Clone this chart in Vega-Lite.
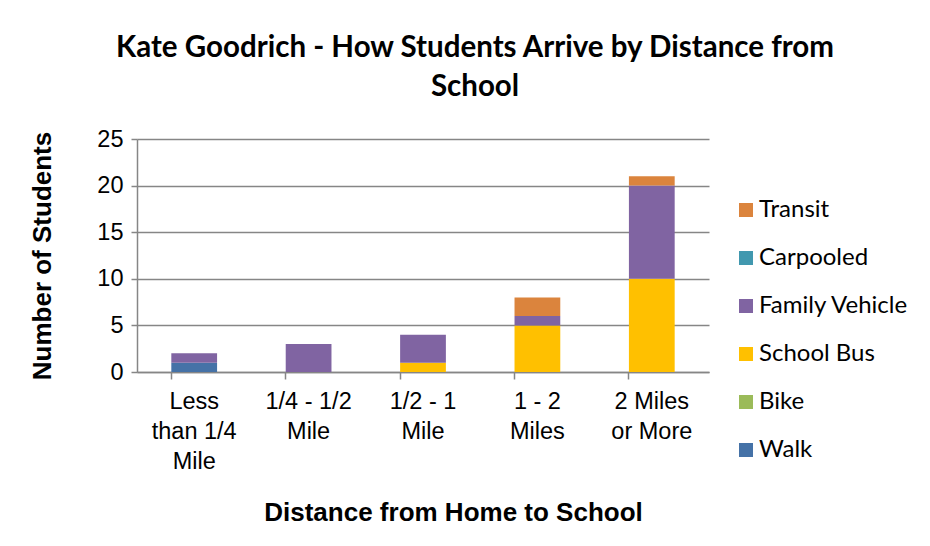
{
  "$schema": "https://vega.github.io/schema/vega-lite/v6.json",
  "width": 572,
  "height": 233,
  "autosize": {"type": "none"},
  "padding": {"left": 137, "top": 139, "right": 221, "bottom": 174},
  "background": "white",
  "title": {
    "text": ["Kate Goodrich - How Students Arrive by Distance from", "School"],
    "font": "Lato",
    "fontSize": 29.5,
    "fontWeight": "bold",
    "color": "#000000",
    "anchor": "middle",
    "dx": 52,
    "offset": 25,
    "lineHeight": 39
  },
  "data": {
    "values": [
      {"distance": "Less than 1/4 Mile", "mode": "Walk", "count": 1},
      {"distance": "Less than 1/4 Mile", "mode": "Family Vehicle", "count": 1},
      {"distance": "1/4 - 1/2 Mile", "mode": "Family Vehicle", "count": 3},
      {"distance": "1/2 - 1 Mile", "mode": "School Bus", "count": 1},
      {"distance": "1/2 - 1 Mile", "mode": "Family Vehicle", "count": 3},
      {"distance": "1 - 2 Miles", "mode": "School Bus", "count": 5},
      {"distance": "1 - 2 Miles", "mode": "Family Vehicle", "count": 1},
      {"distance": "1 - 2 Miles", "mode": "Transit", "count": 2},
      {"distance": "2 Miles or More", "mode": "School Bus", "count": 10},
      {"distance": "2 Miles or More", "mode": "Family Vehicle", "count": 10},
      {"distance": "2 Miles or More", "mode": "Transit", "count": 1}
    ]
  },
  "transform": [
    {"calculate": "indexof(['Walk', 'Bike', 'School Bus', 'Family Vehicle', 'Carpooled', 'Transit'], datum.mode)", "as": "stackOrder"}
  ],
  "mark": {"type": "bar"},
  "encoding": {
    "x": {
      "field": "distance",
      "type": "nominal",
      "sort": ["Less than 1/4 Mile", "1/4 - 1/2 Mile", "1/2 - 1 Mile", "1 - 2 Miles", "2 Miles or More"],
      "scale": {"paddingInner": 0.6, "paddingOuter": 0.3},
      "axis": {
        "title": "Distance from Home to School",
        "titleFont": "Liberation Sans",
        "titleFontSize": 26,
        "titleFontWeight": "bold",
        "titleColor": "#000000",
        "titleX": 316,
        "titleY": 140,
        "titleBaseline": "middle",
        "titleAnchor": "middle",
        "titleAlign": "center",
        "labelAngle": 0,
        "labelFont": "Liberation Sans",
        "labelFontSize": 23.5,
        "labelColor": "#000000",
        "labelLineHeight": 30,
        "labelPadding": 10,
        "labelBaseline": "top",
        "labelExpr": "datum.value == 'Less than 1/4 Mile' ? ['Less', 'than 1/4', 'Mile'] : datum.value == '1/4 - 1/2 Mile' ? ['1/4 - 1/2', 'Mile'] : datum.value == '1/2 - 1 Mile' ? ['1/2 - 1', 'Mile'] : datum.value == '1 - 2 Miles' ? ['1 - 2', 'Miles'] : ['2 Miles', 'or More']",
        "bandPosition": 0,
        "ticks": true,
        "tickSize": 7,
        "tickColor": "#868686",
        "tickWidth": 1.5,
        "domainColor": "#868686",
        "domainWidth": 1.5,
        "grid": false
      }
    },
    "y": {
      "field": "count",
      "type": "quantitative",
      "aggregate": "sum",
      "stack": "zero",
      "scale": {"domain": [0, 25]},
      "axis": {
        "title": "Number of Students",
        "titleFont": "Liberation Sans",
        "titleFontSize": 26,
        "titleFontWeight": "bold",
        "titleColor": "#000000",
        "titlePadding": 41,
        "values": [0, 5, 10, 15, 20, 25],
        "labelFont": "Liberation Sans",
        "labelFontSize": 23.5,
        "labelColor": "#000000",
        "labelPadding": 8,
        "tickSize": 6,
        "tickColor": "#868686",
        "tickWidth": 1.5,
        "domainColor": "#868686",
        "domainWidth": 1.5,
        "grid": true,
        "gridColor": "#868686",
        "gridWidth": 1.5
      }
    },
    "order": {"field": "stackOrder", "type": "quantitative", "sort": "ascending"},
    "color": {
      "field": "mode",
      "type": "nominal",
      "scale": {
        "domain": ["Transit", "Carpooled", "Family Vehicle", "School Bus", "Bike", "Walk"],
        "range": ["#DB843D", "#4198AF", "#8064A2", "#FFC000", "#9BBB59", "#4572A7"]
      },
      "legend": {
        "title": null,
        "orient": "none",
        "legendX": 597,
        "legendY": 59,
        "symbolType": "square",
        "symbolSize": 196,
        "symbolStrokeWidth": 0,
        "symbolOpacity": 1,
        "labelFont": "Lato",
        "labelFontSize": 24,
        "labelColor": "#000000",
        "labelOffset": 1,
        "rowPadding": 24,
        "labelLimit": 300
      }
    }
  },
  "config": {
    "view": {"stroke": null},
    "bar": {"stroke": null}
  }
}
